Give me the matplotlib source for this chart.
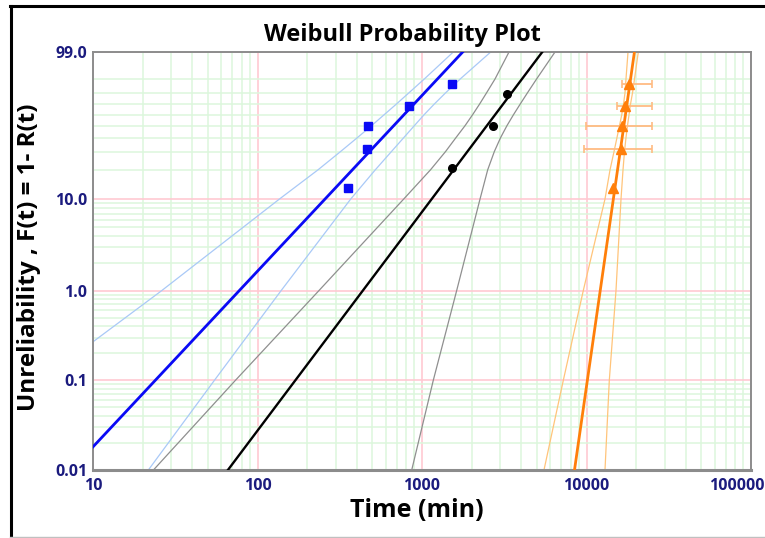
import numpy as np
import matplotlib
matplotlib.use("Agg")
import matplotlib.pyplot as plt
from matplotlib.lines import Line2D
import matplotlib.transforms as mtransforms

# Unreliability levels (%) at which the confidence-bound curves are tabulated
bound_levels = [0.01, 0.1, 1, 10, 20, 30, 40, 50, 60, 70, 80, 90, 99]

# Data set 1 (blue squares)
blue_times = [357, 461, 472, 837, 1515]
blue_unrel = [12.94, 31.38, 50.0, 68.62, 87.06]
blue_beta, blue_eta = 1.96, 811
blue_early_times = [0.93, 4.85, 26.2, 135.9, 233.2, 319.6, 404.9, 493.2, 587.5, 696.9, 831.4, 1033, 1550]
blue_late_times = [21.7, 54.7, 139.3, 368.6, 520, 651.6, 775, 898, 1028, 1185, 1390, 1707, 2617]

# Data set 2 (black circles)
black_times = [1528, 2702, 3300]
black_unrel = [20.63, 50.0, 79.37]
black_beta, black_eta = 2.44, 2880
black_early_times = [23.3, 73.4, 236.5, 774, 1126, 1390, 1609, 1826, 2028, 2236, 2467, 2779, 3380]
black_late_times = [866, 1171, 1625, 2253, 2508, 2752, 3005, 3283, 3594, 3948, 4372, 4973, 6435]

# Data set 3 (orange triangles, some with inspection intervals)
orange_times = [14550, 16200, 16440, 17210, 18130]
orange_unrel = [12.94, 31.38, 50.0, 68.62, 87.06]
orange_int_time = [16200, 16440, 17210, 18130]
orange_int_unrel = [31.38, 50.0, 68.62, 87.06]
orange_int_start = [9660, 9930, 15390, 16370]
orange_int_end = [25000, 25000, 25000, 25000]
orange_beta, orange_eta = 12.8, 17360
orange_early_times = [5515, 7228, 9561, 12955, 13900, 14700, 15320, 15870, 16370, 16790, 17140, 17380, 17880]
orange_late_times = [12955, 13760, 15110, 16210, 16670, 17020, 17380, 17750, 18130, 18510, 19040, 19580, 20650]

# Axis ticks
x_ticks = [10, 100, 1000, 10000, 100000]
x_tick_labels = ["10", "100", "1000", "10000", "100000"]
y_ticks = [0.01, 0.1, 1, 10, 99]
y_tick_labels = ["0.01", "0.1", "1.0", "10.0", "99.0"]
y_minor = ([m * 0.01 for m in range(2, 10)] + [m * 0.1 for m in range(2, 10)]
           + [float(m) for m in range(2, 10)] + [float(m) for m in range(20, 100, 10)])

FONT = "Open Sans"
TICK_COLOR = "#1b1b7e"


def weibull_fwd(p):
    p = np.clip(np.asarray(p, dtype=float) / 100.0, 1e-12, 1 - 1e-12)
    return np.log(-np.log1p(-p))


def weibull_inv(w):
    return 100.0 * (-np.expm1(-np.exp(np.asarray(w, dtype=float))))


def fit_times(beta, eta, levels):
    f = np.asarray(levels, dtype=float) / 100.0
    return eta * (-np.log1p(-f)) ** (1.0 / beta)


W, H = 765, 538
fig = plt.figure(figsize=(W / 100, H / 100), dpi=100)
ax = fig.add_axes([93 / W, 1 - 470 / H, (751 - 93) / W, (470 - 52) / H])

ax.set_xscale("log")
ax.set_yscale("function", functions=(weibull_fwd, weibull_inv))
ax.set_xlim(10, 100000)
ax.set_ylim(0.01, 99)

# Grid
ax.set_axisbelow(True)
ax.set_xticks(x_ticks)
ax.set_xticklabels(x_tick_labels)
ax.xaxis.set_minor_locator(matplotlib.ticker.LogLocator(base=10, subs=np.arange(2, 10)))
ax.xaxis.set_minor_formatter(matplotlib.ticker.NullFormatter())
ax.set_yticks(y_ticks)
ax.set_yticklabels(y_tick_labels)
ax.set_yticks(y_minor, minor=True)
ax.yaxis.set_minor_formatter(matplotlib.ticker.NullFormatter())
ax.grid(which="minor", color="#dcf7dc", lw=1.1, zorder=0)
ax.grid(which="major", color="#ffc9d2", lw=1.2, zorder=0.5)
ax.tick_params(which="both", length=0)
ax.tick_params(axis="x", pad=6)
ax.tick_params(axis="y", pad=4)
for lab in ax.get_xticklabels() + ax.get_yticklabels():
    lab.set_fontfamily(FONT)
    lab.set_fontweight("bold")
    lab.set_fontsize(11.5)
    lab.set_color(TICK_COLOR)
last_tick = ax.xaxis.get_major_ticks()[-1]
last_tick.label1.set_transform(last_tick.label1.get_transform()
                               + mtransforms.ScaledTranslation(-14 / 100, 0, fig.dpi_scale_trans))

for s in ax.spines.values():
    s.set_color("#8c8c8c")
    s.set_linewidth(1.4)
ax.spines["bottom"].set_linewidth(2.2)

# Confidence bounds
ax.plot(blue_early_times, bound_levels, color="#a9c9f7", lw=0.9, zorder=2)
ax.plot(blue_late_times, bound_levels, color="#a9c9f7", lw=0.9, zorder=2)
ax.plot(black_early_times, bound_levels, color="#8f8f8f", lw=0.9, zorder=2)
ax.plot(black_late_times, bound_levels, color="#8f8f8f", lw=0.9, zorder=2)
ax.plot(orange_early_times, bound_levels, color="#ffc47a", lw=0.9, zorder=2)
ax.plot(orange_late_times, bound_levels, color="#ffc47a", lw=0.9, zorder=2)

# Fitted Weibull lines
ax.plot(fit_times(blue_beta, blue_eta, bound_levels), bound_levels, color="#0a0af5", lw=2.0, zorder=3)
ax.plot(fit_times(black_beta, black_eta, bound_levels), bound_levels, color="black", lw=1.7, zorder=3)
ax.plot(fit_times(orange_beta, orange_eta, bound_levels), bound_levels, color="#ff7f0a", lw=2.0, zorder=3)

# Interval bars
xerr = [np.array(orange_int_time) - np.array(orange_int_start),
        np.array(orange_int_end) - np.array(orange_int_time)]
ax.errorbar(orange_int_time, orange_int_unrel, xerr=xerr, fmt="none",
            ecolor="#ffbb82", elinewidth=1.3, capsize=3, capthick=1.2, zorder=2.5)

# Data points
ax.plot(blue_times, blue_unrel, "s", color="#0a0af5", ms=5.3, zorder=4, clip_on=False)
ax.plot(black_times, black_unrel, "o", color="black", ms=5.5, zorder=4, clip_on=False)
ax.plot(orange_times, orange_unrel, "^", color="#ff7f0a", ms=6.5, zorder=4, clip_on=False)

# Titles
fig.text(402 / W, 1 - 41 / H, "Weibull Probability Plot", ha="center", va="baseline",
         fontfamily=FONT, fontweight="bold", fontsize=17)
fig.text(417 / W, 1 - 517 / H, "Time (min)", ha="center", va="baseline",
         fontfamily=FONT, fontweight="bold", fontsize=18)
fig.text(29 / W, 1 - 257 / H, "Unreliability , F(t) = 1- R(t)", ha="center", va="center",
         rotation=90, fontfamily=FONT, fontweight="bold", fontsize=17.5)

# Window frame
fig.add_artist(Line2D([10.5 / W, 10.5 / W], [0, 1 - 6 / H], color="black", lw=2.2,
                      transform=fig.transFigure))
fig.add_artist(Line2D([10 / W, 1], [1 - 6 / H, 1 - 6 / H], color="black", lw=2.2,
                      transform=fig.transFigure))
fig.add_artist(Line2D([10 / W, 1], [1 - 536.5 / H, 1 - 536.5 / H], color="#c0c0c0", lw=1.0,
                      transform=fig.transFigure))

fig.savefig("out.png", dpi=100)
